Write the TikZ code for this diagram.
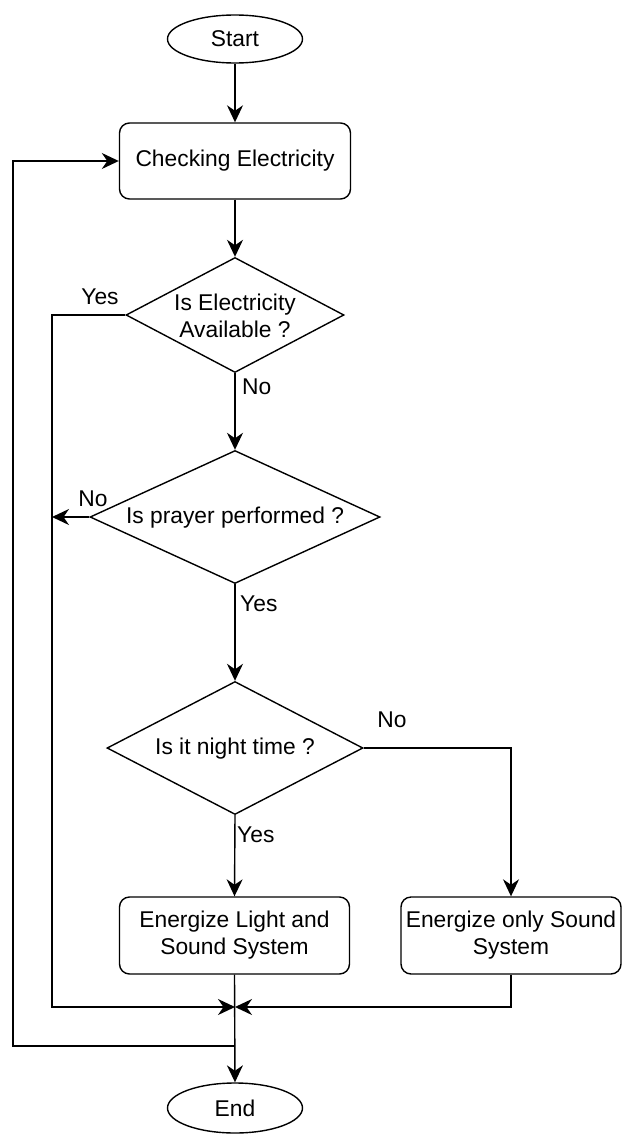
\documentclass[tikz,border=0pt]{standalone}
\usepackage{fontspec}
\setmainfont{Liberation Sans}
\usetikzlibrary{shapes.geometric,arrows.meta}
\begin{document}
\begin{tikzpicture}[x=1pt,y=-1pt,
  every node/.style={font=\fontsize{22.8}{27}\selectfont, text=black},
  base/.style={draw=black, line width=1.4pt, inner sep=0pt, align=center},
  term/.style={base, ellipse, minimum width=135pt, minimum height=48pt},
  proc/.style={base, rectangle, rounded corners=10pt},
  dia/.style={base, diamond},
  txt/.style={inner sep=0pt, align=center},
  lbl/.style={inner sep=0pt},
  conn/.style={line width=1.4pt, draw=black},
  arr/.style={conn, -{Stealth[length=17pt, width=16pt, inset=5.5pt]}}
]
\useasboundingbox (0,0) rectangle (622,1135);

% nodes
\node[term] (start) at (235,39) {Start};
\node[proc, minimum width=231pt, minimum height=76pt] (check) at (235,161) {Checking Electricity};
\node[dia, minimum width=218pt, minimum height=115pt] (d1) at (235,315) {};
\node[txt] (t1) at (235,316) {Is Electricity\\Available ?};
\node[dia, minimum width=290pt, minimum height=133pt] (d2) at (235,517) {};
\node[txt] (t2) at (235,518) {Is prayer performed ?};
\node[dia, minimum width=256pt, minimum height=133pt] (d3) at (235,748) {};
\node[txt] (t3) at (235,749) {Is it night time ?};
\node[proc, minimum width=230pt, minimum height=77pt] (b1) at (234.5,935.5) {Energize Light and\\Sound System};
\node[proc, minimum width=220pt, minimum height=77pt] (b2) at (511,935.5) {Energize only Sound\\System};
\node[term, minimum height=50pt] (end) at (235,1108) {End};

\coordinate (m) at (235,1007);
\coordinate (lp) at (235,1046);
\coordinate (yl) at (52,315);
\coordinate (yb) at (52,1007);
\coordinate (nl) at (52,517);
\coordinate (rc) at (511,748);
\coordinate (rb) at (511,1007);
\coordinate (ll) at (13,1046);
\coordinate (lt) at (13,161);

% connectors
\draw[arr] (start.south) -- (check.north);
\draw[arr] (check.south) -- (d1.north);
\draw[arr] (d1.west) -- (yl) -- (yb) -- (m);
\draw[arr] (d1.south) -- (d2.north);
\draw[arr] (d2.west) -- (nl);
\draw[arr] (d2.south) -- (d3.north);
\draw[arr] (d3.east) -- (rc) -- (b2.north);
\draw[arr] (d3.south) -- (b1.north);
\draw[arr] (b1.south) -- (end.north);
\draw[arr] (b2.south) -- (rb) -- (m);
\draw[arr] (lp) -- (ll) -- (lt) -- (check.west);

% labels
\node[lbl] (lyes1) at (100,297) {Yes};
\node[lbl, anchor=west] (lno1) at (242,387) {No};
\node[lbl] (lno2) at (93,499) {No};
\node[lbl, anchor=west] (lyes2) at (240,604) {Yes};
\node[lbl] (lno3) at (392,720) {No};
\node[lbl, anchor=west] (lyes3) at (237,835) {Yes};
\end{tikzpicture}
\end{document}
